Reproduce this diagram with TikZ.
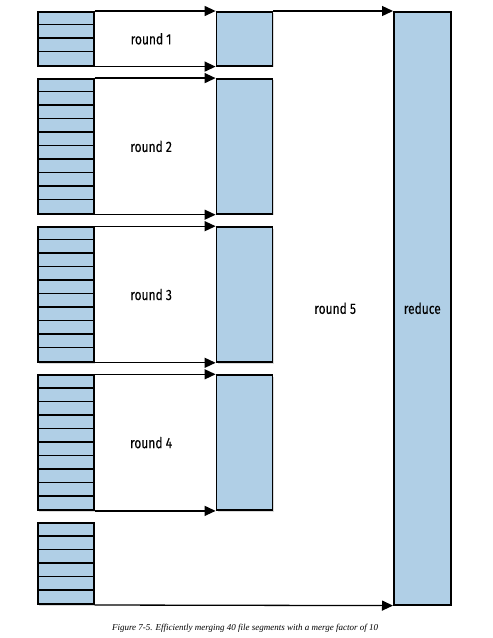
\documentclass[tikz,border=0pt]{standalone}
\usepackage{fontspec}
\setmainfont{Liberation Serif}
\newfontfamily\roundfont[FakeStretch=0.8,FakeBold=0.15]{Fira Sans}
\usepackage{tikz}
\usetikzlibrary{arrows.meta,positioning,shadows}
\definecolor{SegBlue}{RGB}{176,207,230}

\begin{document}
\begin{tikzpicture} [x=1pt, y=-1pt,
       >={Triangle[length=11pt,width=10pt]}, line width=1.3pt,
       every node/.style={font=\roundfont\fontsize{15}{18}\selectfont},
       segstack/.style = {rectangle, draw, line width=1.6pt, fill=SegBlue,
                          minimum width=56pt, minimum height=#1*13.5pt, inner sep=0pt,
                          drop shadow={opacity=0.3, shadow xshift=1.5pt, shadow yshift=-1.5pt}},
       mergedbox/.style = {rectangle, draw, line width=1.6pt, fill=SegBlue,
                          minimum width=56pt, minimum height=#1, inner sep=0pt,
                          drop shadow={opacity=0.3, shadow xshift=1.5pt, shadow yshift=-1.5pt}},
       divider/.style = {line width=1.5pt}]
    \useasboundingbox (0,0) rectangle (493,638);

    %% Input segments
    \node [segstack=4, anchor=north west] (s1) at (37,11) {};
    \node [segstack=10, below=11.5pt of s1] (s2) {};
    \node [segstack=10, below=11.5pt of s2] (s3) {};
    \node [segstack=10, below=11.5pt of s3] (s4) {};
    \node [segstack=6, below=11.5pt of s4] (s5) {};
    \foreach \k in {1,...,3} \draw[divider] (s1.north west) ++(0,\k*13.5) -- ++(56,0);
    \foreach \s in {s2,s3,s4} {
        \foreach \k in {1,...,9} \draw[divider] (\s.north west) ++(0,\k*13.5) -- ++(56,0);
    }
    \foreach \k in {1,...,5} \draw[divider] (s5.north west) ++(0,\k*13.5) -- ++(56,0);

    %% Merged files
    \node [mergedbox=54pt, right=121pt of s1] (m1) {};
    \node [mergedbox=135pt, right=121pt of s2] (m2) {};
    \node [mergedbox=135pt, right=121pt of s3] (m3) {};
    \node [mergedbox=135pt, right=121pt of s4] (m4) {};

    %% Reduce
    \node [mergedbox=593pt, minimum width=57pt, anchor=north west] (reduce) at (393,11) {reduce};

    %% Merge rounds
    \foreach \i in {1,...,4} {
        \draw[->] (s\i.north east) -- (m\i.north west);
        \draw[->] (s\i.south east) -- (m\i.south west);
        \path (s\i) -- node[xshift=-4pt] (r\i) {round \i} (m\i);
    }
    \draw[->] (m1.north east) -- (reduce.north west);
    \draw[->] (s5.south east) -- (reduce.south west);
    \node [left=33pt of reduce.west] (r5) {round 5};

    %% Caption
    \node [font=\rmfamily\itshape\fontsize{9}{11}\selectfont] (caption) at (245,628)
          {Figure 7-5. Efficiently merging 40 file segments with a merge factor of 10};
\end{tikzpicture}
\end{document}
